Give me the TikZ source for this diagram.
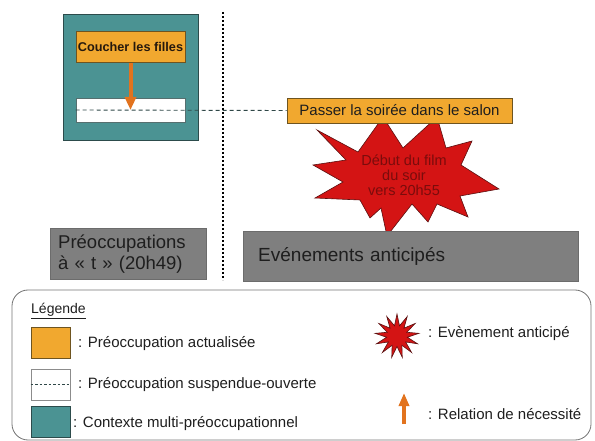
\documentclass[tikz,border=0pt]{standalone}
\usepackage{fontspec}
\setmainfont{Liberation Sans}
\usetikzlibrary{arrows.meta,shapes.geometric}
\definecolor{prorange}{HTML}{F1A82F}
\definecolor{prorangeedge}{HTML}{6E5420}
\definecolor{ctxteal}{HTML}{4B9393}
\definecolor{ctxedge}{HTML}{2C4B4B}
\definecolor{bandgray}{HTML}{7F7F7F}
\definecolor{starred}{HTML}{D41414}
\definecolor{staredge}{HTML}{5A1010}
\definecolor{startext}{HTML}{7A0C0C}
\definecolor{arroworange}{HTML}{E2731E}
\definecolor{dashgray}{HTML}{2F4747}
\definecolor{txt}{HTML}{1E1E1E}
\tikzset{
  ctxbox/.style={draw=ctxedge,line width=0.8pt,fill=ctxteal,inner sep=0pt},
  actbox/.style={draw=prorangeedge,line width=0.7pt,fill=prorange,inner sep=0pt,text=txt},
  suspbox/.style={draw=ctxedge!80,line width=0.7pt,fill=white,inner sep=0pt},
  band/.style={fill=bandgray,draw=bandgray!85!black,line width=0.4pt,inner sep=0pt,text=txt},
  dashline/.style={draw=dashgray,line width=0.9pt,dash pattern=on 4pt off 3pt},
  sepline/.style={draw=black,line width=2pt,dash pattern=on 2pt off 2pt},
  necessity/.style={draw=arroworange,line width=4pt,-{Triangle[width=11pt,length=13pt]}},
  necessitysmall/.style={draw=arroworange,line width=3.5pt,-{Triangle[width=10pt,length=13pt]}},
  burst/.style={fill=starred,draw=staredge,line width=0.6pt},
  legtext/.style={anchor=west,inner sep=0pt,text=txt,font=\fontsize{15}{17}\selectfont},
  legsquare/.style={minimum width=39pt,minimum height=31pt,inner sep=0pt}
}
\begin{document}
\begin{tikzpicture}[x=1pt,y=-1pt]
\useasboundingbox (0,0) rectangle (595,441);

% separator
\coordinate (septop) at (223,12);
\coordinate (sepbot) at (223,280);
\draw[sepline] (septop) -- (sepbot);

% context box and its contents
\node[ctxbox,minimum width=135pt,minimum height=126pt] (ctx) at (130.5,77) {};
\node[actbox,minimum width=109pt,minimum height=31pt,font=\bfseries\fontsize{12.7}{14}\selectfont,text=black!80!brown] (coucher) at (130.5,47.2) {Coucher les filles};
\node[suspbox,minimum width=109pt,minimum height=24pt] (susp) at (130.5,110) {};

% burst (anticipated event)
\draw[burst] (317,130) -- (358,152) -- (383,117) -- (403,148) -- (437,117) -- (446,148)
  -- (472,141) -- (461,165) -- (499,189) -- (460,196) -- (468,217) -- (437,204)
  -- (428,222) -- (412,204) -- (387,236) -- (381,208) -- (370,218) -- (360,200)
  -- (315,198) -- (343,182) -- (313,165) -- (346,160) -- cycle;
\node[align=center,text=startext,font=\fontsize{14.5}{15}\selectfont,inner sep=0pt] (event) at (404,175) {Début du film\\du soir\\vers 20h55};

% actualised preoccupation
\node[actbox,minimum width=225pt,minimum height=25pt,font=\fontsize{15}{17}\selectfont] (passer) at (399.5,110.5) {Passer la soirée dans le salon};

% suspended link and necessity arrow
\draw[dashline] (susp.west) -- (passer.west);
\draw[necessity] (coucher.south) -- (susp.center);

% bands
\node[band,minimum width=154pt,minimum height=51pt,align=left,anchor=north west,text width=140pt,font=\fontsize{18.5}{21}\selectfont,inner xsep=8pt] (preoc) at (50,228) {Préoccupations\\à « t » (20h49)};
\node[band,minimum width=326pt,minimum height=50pt,anchor=north west,text width=305pt,align=left,font=\fontsize{19}{21}\selectfont,inner xsep=15pt] (evts) at (243,231) {Evénements anticipés};

% legend
\node[draw=black!55,line width=0.8pt,rounded corners=16pt,minimum width=579pt,minimum height=150pt,inner sep=0pt] (legend) at (301.5,365) {};
\node[legtext,font=\fontsize{14}{16}\selectfont] (legtitle) at (31,311) {\underline{Légende}};

\node[actbox,legsquare] (legact) at (50.5,342.5) {};
\node[legtext] (legacttxt) at (78,344) {: Préoccupation actualisée};

\node[draw=black!45,line width=0.6pt,fill=white,legsquare] (legsusp) at (50.5,384.5) {};
\draw[dashgray,line width=0.6pt,dash pattern=on 2.5pt off 2pt] (legsusp.west) -- (legsusp.east);
\node[legtext] (legsusptxt) at (78,385) {: Préoccupation suspendue-ouverte};

\node[ctxbox,legsquare] (legctx) at (50.5,421.5) {};
\node[legtext] (legctxtxt) at (73,424) {: Contexte multi-préoccupationnel};

\node[star,star points=13,star point ratio=2.1,minimum size=44pt,inner sep=0pt,burst] (legstar) at (397,336) {};
\node[legtext] (legstartxt) at (428,334) {: Evènement anticipé};

\coordinate (legarrbot) at (404,424);
\coordinate (legarrtop) at (404,393);
\draw[necessitysmall] (legarrbot) -- (legarrtop);
\node[legtext] (legarrtxt) at (428,414) {: Relation de nécessité};
\end{tikzpicture}
\end{document}
